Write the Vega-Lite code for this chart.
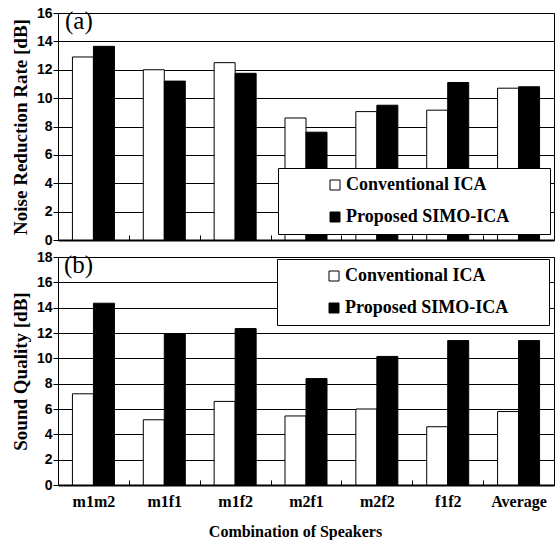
{
  "$schema": "https://vega.github.io/schema/vega-lite/v6.json",
  "background": "white",
  "padding": {"left": 10, "top": 5, "right": 0, "bottom": 0},
  "spacing": 1,
  "datasets": {
    "nrr": [
      {"combo": "m1m2", "method": "Conventional ICA", "value": 12.9},
      {"combo": "m1m2", "method": "Proposed SIMO-ICA", "value": 13.65},
      {"combo": "m1f1", "method": "Conventional ICA", "value": 12.0},
      {"combo": "m1f1", "method": "Proposed SIMO-ICA", "value": 11.2},
      {"combo": "m1f2", "method": "Conventional ICA", "value": 12.5},
      {"combo": "m1f2", "method": "Proposed SIMO-ICA", "value": 11.75},
      {"combo": "m2f1", "method": "Conventional ICA", "value": 8.6},
      {"combo": "m2f1", "method": "Proposed SIMO-ICA", "value": 7.6},
      {"combo": "m2f2", "method": "Conventional ICA", "value": 9.05},
      {"combo": "m2f2", "method": "Proposed SIMO-ICA", "value": 9.5},
      {"combo": "f1f2", "method": "Conventional ICA", "value": 9.15},
      {"combo": "f1f2", "method": "Proposed SIMO-ICA", "value": 11.1},
      {"combo": "Average", "method": "Conventional ICA", "value": 10.7},
      {"combo": "Average", "method": "Proposed SIMO-ICA", "value": 10.8}
    ],
    "sq": [
      {"combo": "m1m2", "method": "Conventional ICA", "value": 7.2},
      {"combo": "m1m2", "method": "Proposed SIMO-ICA", "value": 14.35},
      {"combo": "m1f1", "method": "Conventional ICA", "value": 5.15},
      {"combo": "m1f1", "method": "Proposed SIMO-ICA", "value": 11.95},
      {"combo": "m1f2", "method": "Conventional ICA", "value": 6.6},
      {"combo": "m1f2", "method": "Proposed SIMO-ICA", "value": 12.35},
      {"combo": "m2f1", "method": "Conventional ICA", "value": 5.45},
      {"combo": "m2f1", "method": "Proposed SIMO-ICA", "value": 8.4},
      {"combo": "m2f2", "method": "Conventional ICA", "value": 6.0},
      {"combo": "m2f2", "method": "Proposed SIMO-ICA", "value": 10.15},
      {"combo": "f1f2", "method": "Conventional ICA", "value": 4.6},
      {"combo": "f1f2", "method": "Proposed SIMO-ICA", "value": 11.4},
      {"combo": "Average", "method": "Conventional ICA", "value": 5.8},
      {"combo": "Average", "method": "Proposed SIMO-ICA", "value": 11.4}
    ]
  },
  "config": {
    "view": {"stroke": "black", "strokeWidth": 1},
    "axis": {
      "domainColor": "black", "tickColor": "black", "gridColor": "black",
      "labelColor": "black", "titleColor": "black", "gridOpacity": 1
    },
    "legend": {
      "orient": "none", "titleOrient": "right", "titlePadding": 33,
      "strokeColor": "black", "fillColor": "white", "padding": 8,
      "symbolType": "square", "symbolSize": 100, "symbolStrokeColor": "black",
      "symbolStrokeWidth": 1, "symbolOffset": 40, "symbolOpacity": 1,
      "labelFont": "Liberation Serif", "labelFontSize": 18, "labelFontWeight": "bold",
      "labelOffset": 2, "rowPadding": 14, "labelColor": "black", "labelLimit": 0
    },
    "title": {"color": "black"}
  },
  "resolve": {"legend": {"fill": "independent"}, "scale": {"fill": "independent", "x": "independent"}},
  "vconcat": [
    {
      "width": 496, "height": 227,
      "data": {"name": "nrr"},
      "title": {"text": "(a)", "anchor": "start", "frame": "group", "orient": "top", "offset": -28, "dx": 7,
        "font": "Liberation Serif", "fontSize": 25, "fontWeight": "normal"},
      "mark": {"type": "bar", "stroke": "black", "strokeWidth": 1},
      "encoding": {
        "x": {"field": "combo", "type": "nominal",
          "sort": ["m1m2", "m1f1", "m1f2", "m2f1", "m2f2", "f1f2", "Average"],
          "scale": {"paddingInner": 0, "paddingOuter": 0},
          "axis": {"title": null, "labels": false, "grid": false, "domainWidth": 2,
            "ticks": true, "tickSize": -5, "tickWidth": 1, "tickBand": "extent"}},
        "xOffset": {"field": "method", "type": "nominal",
          "sort": ["Conventional ICA", "Proposed SIMO-ICA"],
          "scale": {"paddingInner": 0, "paddingOuter": 0.687}},
        "y": {"field": "value", "type": "quantitative",
          "scale": {"domain": [0, 16], "nice": false},
          "axis": {"values": [0, 2, 4, 6, 8, 10, 12, 14, 16], "grid": true, "gridWidth": 1,
            "domain": false, "tickSize": 5, "labelPadding": 1,
            "labelFont": "Liberation Sans", "labelFontWeight": "bold", "labelFontSize": 14,
            "title": "Noise Reduction Rate [dB]", "titleFont": "Liberation Serif",
            "titleFontSize": 19, "titleFontWeight": "bold", "titlePadding": 6}},
        "fill": {"field": "method", "type": "nominal",
          "scale": {"domain": ["Conventional ICA", "Proposed SIMO-ICA"], "range": ["white", "black"]},
          "legend": {"title": "\u00a0", "titleOrient": "right", "titlePadding": 33, "legendX": 220, "legendY": 155}}
      }
    },
    {
      "width": 496, "height": 228,
      "data": {"name": "sq"},
      "title": {"text": "(b)", "anchor": "start", "frame": "group", "orient": "top", "offset": -28, "dx": 6,
        "font": "Liberation Serif", "fontSize": 25, "fontWeight": "normal"},
      "mark": {"type": "bar", "stroke": "black", "strokeWidth": 1},
      "encoding": {
        "x": {"field": "combo", "type": "nominal",
          "sort": ["m1m2", "m1f1", "m1f2", "m2f1", "m2f2", "f1f2", "Average"],
          "scale": {"paddingInner": 0, "paddingOuter": 0},
          "axis": {"title": "Combination of Speakers", "labels": true, "grid": false, "domainWidth": 2,
            "ticks": true, "tickSize": -5, "tickWidth": 1, "tickBand": "extent",
            "labelAngle": 0, "labelPadding": 13,
            "labelFont": "Liberation Serif", "labelFontWeight": "bold", "labelFontSize": 16,
            "titleFont": "Liberation Serif", "titleFontWeight": "bold", "titleFontSize": 16,
            "titlePadding": 14, "titleX": 237}},
        "xOffset": {"field": "method", "type": "nominal",
          "sort": ["Conventional ICA", "Proposed SIMO-ICA"],
          "scale": {"paddingInner": 0, "paddingOuter": 0.687}},
        "y": {"field": "value", "type": "quantitative",
          "scale": {"domain": [0, 18], "nice": false},
          "axis": {"values": [0, 2, 4, 6, 8, 10, 12, 14, 16, 18], "grid": true, "gridWidth": 1,
            "domain": false, "tickSize": 5, "labelPadding": 1,
            "labelFont": "Liberation Sans", "labelFontWeight": "bold", "labelFontSize": 14,
            "title": "Sound Quality [dB]", "titleFont": "Liberation Serif",
            "titleFontSize": 19, "titleFontWeight": "bold", "titlePadding": 6}},
        "fill": {"field": "method", "type": "nominal",
          "scale": {"domain": ["Conventional ICA", "Proposed SIMO-ICA"], "range": ["white", "black"]},
          "legend": {"title": "\u00a0", "titleOrient": "right", "titlePadding": 33, "legendX": 219, "legendY": 2}}
      }
    }
  ]
}
